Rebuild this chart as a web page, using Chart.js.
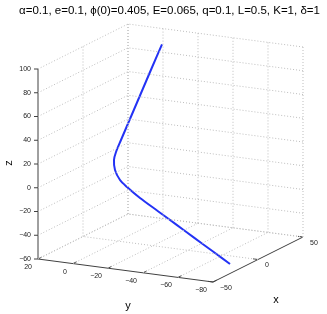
<!DOCTYPE html>
<html>
<head>
<meta charset="utf-8">
<script src="https://cdn.jsdelivr.net/npm/chart.js@4/dist/chart.umd.min.js"></script>
<style>
html,body{margin:0;padding:0;background:#fff;}
#wrap{width:327px;height:314px;position:relative;}
</style>
</head>
<body>
<div id="wrap"><canvas id="c" width="327" height="314"></canvas></div>
<script>
// ---- data (3D trajectory) ----
const trajX = [22, 20, 18, 16, 14, 12, 10, 8, 6, 4, 1, -2, -5, -8, -11, -14];
const trajY = [-13.83, -9.0, -4.17, 0.66, 5.49, 7.31, 7.43, 5.83, 1.94, -3.09, -12.06, -23.89, -35.71, -47.54, -59.37, -71.2];
const trajZ = [100, 79.93, 59.55, 39.16, 18.77, 9.07, 3.07, -4.29, -11.2, -15.36, -21.75, -29.44, -37.13, -44.81, -52.5, -60.2];

// ---- tick values ----
const xTicks = [-50, 0, 50];
const yTicks = [20, 0, -20, -40, -60, -80];
const zTicks = [-60, -40, -20, 0, 20, 40, 60, 80, 100];
const xLim = [-50, 50], yLim = [-80, 20], zLim = [-60, 100];
const titleText = "\u03b1=0.1, e=0.1, \u03d5(0)=0.405, E=0.065, q=0.1, L=0.5, K=1, \u03b4=1";

// ---- view projection (fixed camera) ----
const O = {x: 213, y: 282};
const UX = {x: 0.9, y: -0.45}, UY = {x: -1.75, y: -0.23}, UZ = {x: 0, y: -1.1875};
function proj(x, y, z) {
  const a = x - xLim[0], b = y - yLim[0], c = z - zLim[0];
  return {x: O.x + a*UX.x + b*UY.x + c*UZ.x, y: O.y + a*UX.y + b*UY.y + c*UZ.y};
}
function seg(p, q) { return [proj(...p), proj(...q)]; }

const datasets = [];
const gridStyle = {borderColor: '#bdbdbd', borderWidth: 1, borderDash: [1, 2], pointRadius: 0, showLine: true, fill: false};
function gridLine(p, q) { datasets.push(Object.assign({data: seg(p, q)}, gridStyle)); }

// back wall y = yMax
xTicks.forEach(x => { if (x !== xLim[0]) gridLine([x, yLim[1], zLim[0]], [x, yLim[1], zLim[1]]); });
zTicks.forEach(z => gridLine([xLim[0], yLim[1], z], [xLim[1], yLim[1], z]));
// back wall x = xMax
yTicks.forEach(y => gridLine([xLim[1], y, zLim[0]], [xLim[1], y, zLim[1]]));
zTicks.forEach(z => gridLine([xLim[1], yLim[0], z], [xLim[1], yLim[1], z]));
// floor z = zMin
xTicks.forEach(x => { if (x !== xLim[0]) gridLine([x, yLim[0], zLim[0]], [x, yLim[1], zLim[0]]); });
yTicks.forEach(y => { if (y !== yLim[0]) gridLine([xLim[0], y, zLim[0]], [xLim[1], y, zLim[0]]); });

// axes lines
const axisStyle = {borderColor: '#404040', borderWidth: 1, pointRadius: 0, showLine: true, fill: false};
function axisLine(p, q) { datasets.push(Object.assign({data: seg(p, q)}, axisStyle)); }
axisLine([xLim[0], yLim[1], zLim[0]], [xLim[0], yLim[1], zLim[1]]); // z axis
axisLine([xLim[0], yLim[1], zLim[0]], [xLim[0], yLim[0], zLim[0]]); // y axis
axisLine([xLim[0], yLim[0], zLim[0]], [xLim[1], yLim[0], zLim[0]]); // x axis
// tick marks
zTicks.forEach(z => { const p = proj(xLim[0], yLim[1], z); datasets.push(Object.assign({data: [p, {x: p.x - 4, y: p.y}]}, axisStyle)); });
yTicks.forEach(y => { const p = proj(xLim[0], y, zLim[0]); datasets.push(Object.assign({data: [p, {x: p.x + 4*0.894, y: p.y - 4*0.447}]}, axisStyle)); });
xTicks.forEach(x => { const p = proj(x, yLim[0], zLim[0]); datasets.push(Object.assign({data: [p, {x: p.x - 5*0.99, y: p.y - 5*0.13}]}, axisStyle)); });

// trajectory
datasets.push({
  data: trajX.map((x, i) => proj(x, trajY[i], trajZ[i])),
  borderColor: 'rgb(35,50,245)', borderWidth: 2, pointRadius: 0, showLine: true, fill: false, tension: 0.3
});

const textPlugin = {
  id: 'texts',
  afterDraw(chart) {
    const ctx = chart.ctx, sx = chart.scales.x, sy = chart.scales.y;
    const P = p => ({x: sx.getPixelForValue(p.x), y: sy.getPixelForValue(p.y)});
    ctx.save();
    ctx.fillStyle = '#000';
    ctx.font = '11.5px "Liberation Sans", Arial, sans-serif';
    ctx.textAlign = 'center'; ctx.textBaseline = 'middle';
    ctx.fillText(titleText, 169.5, 11);
    ctx.font = '7px "Liberation Sans", Arial, sans-serif';
    ctx.fillStyle = '#222';
    zTicks.forEach(z => { const p = P(proj(xLim[0], yLim[1], z)); ctx.textAlign = 'right'; ctx.fillText(String(z).replace('-', '\u2212'), p.x - 7, p.y); });
    yTicks.forEach(y => { const p = P(proj(xLim[0], y, zLim[0])); ctx.textAlign = 'right'; ctx.fillText(String(y).replace('-', '\u2212'), p.x - 6, p.y + 8); });
    xTicks.forEach(x => { const p = P(proj(x, yLim[0], zLim[0])); ctx.textAlign = 'left'; ctx.fillText(String(x).replace('-', '\u2212'), p.x + 7, p.y + 6); });
    ctx.fillStyle = '#000';
    ctx.font = '11px "Liberation Sans", Arial, sans-serif';
    ctx.textAlign = 'center';
    ctx.fillText('y', 128, 306);
    ctx.fillText('x', 276, 300);
    ctx.save(); ctx.translate(9, 163); ctx.rotate(-Math.PI/2); ctx.fillText('z', 0, 0); ctx.restore();
    ctx.restore();
  }
};

new Chart(document.getElementById('c'), {
  type: 'scatter',
  data: {datasets},
  options: {
    responsive: false, animation: false, devicePixelRatio: 1,
    layout: {padding: 0},
    scales: {
      x: {type: 'linear', min: 0, max: 327, display: false},
      y: {type: 'linear', min: 0, max: 314, reverse: true, display: false}
    },
    plugins: {legend: {display: false}, tooltip: {enabled: false}}
  },
  plugins: [textPlugin]
});
</script>
</body>
</html>
